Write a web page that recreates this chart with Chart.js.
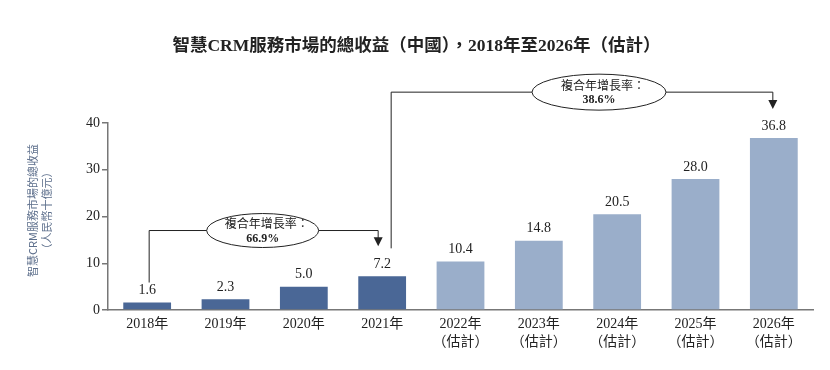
<!DOCTYPE html>
<html>
<head>
<meta charset="utf-8">
<script src="https://cdn.jsdelivr.net/npm/chart.js@4.4.1/dist/chart.umd.min.js"></script>
<style>
  html, body { margin: 0; padding: 0; background: #fff; }
  #wrap { width: 830px; height: 370px; }
</style>
</head>
<body>
<div id="wrap"><canvas id="myChart" width="830" height="370"></canvas></div>
<script>
// Daten
const years = ["2018年", "2019年", "2020年", "2021年", "2022年", "2023年", "2024年", "2025年", "2026年"];
const estimated = [false, false, false, false, true, true, true, true, true];
const revenue = [1.6, 2.3, 5.0, 7.2, 10.4, 14.8, 20.5, 28.0, 36.8];
const yTicks = [0, 10, 20, 30, 40];
const cagrLabel = "複合年增長率：";
const cagrHist = "66.9%";
const cagrFcst = "38.6%";

const serif = '"Liberation Serif", "Noto Sans CJK TC", serif';
const sans = '"Noto Sans CJK TC", "Noto Sans", sans-serif';
const darkBlue = '#4a6796';
const lightBlue = '#9aaeca';

const xLabels = years.map((y, i) => estimated[i] ? [y, "（估計）"] : y);

// Pfeil nach unten
function arrowDown(ctx, x, y) {
    ctx.beginPath();
    ctx.moveTo(x - 4.5, y - 9);
    ctx.lineTo(x + 4.5, y - 9);
    ctx.lineTo(x, y);
    ctx.closePath();
    ctx.fill();
}

function ellipseLabel(ctx, cx, cy, w, h, pct) {
    ctx.beginPath();
    ctx.ellipse(cx, cy, w / 2, h / 2, 0, 0, Math.PI * 2);
    ctx.fillStyle = '#fff';
    ctx.fill();
    ctx.strokeStyle = '#222';
    ctx.lineWidth = 1;
    ctx.stroke();
    ctx.fillStyle = '#222';
    ctx.textAlign = 'center';
    ctx.textBaseline = 'middle';
    ctx.font = '12px ' + sans;
    ctx.fillText(cagrLabel, cx + 4, cy - 7);
    ctx.font = 'bold 12px ' + serif;
    ctx.fillText(pct, cx, cy + 8);
}

const extras = {
    id: 'extras',
    afterDatasetsDraw(chart) {
        const ctx = chart.ctx;
        const x = chart.scales.x;
        const y = chart.scales.y;
        const area = chart.chartArea;
        ctx.save();

        // Werte über den Balken
        ctx.font = '14px ' + serif;
        ctx.fillStyle = '#222';
        ctx.textAlign = 'center';
        ctx.textBaseline = 'middle';
        revenue.forEach((v, i) => {
            ctx.fillText(v.toFixed(1), x.getPixelForValue(i), y.getPixelForValue(v) - 12);
        });

        // Klammer 2018-2021
        ctx.strokeStyle = '#222';
        ctx.fillStyle = '#222';
        ctx.lineWidth = 1;
        const y1 = y.getPixelForValue(17);
        const xa = x.getPixelForValue(0) + 2;
        const xb = x.getPixelForValue(3) - 4;
        ctx.beginPath();
        ctx.moveTo(xa, y.getPixelForValue(revenue[0]) - 20);
        ctx.lineTo(xa, y1);
        ctx.lineTo(xb, y1);
        ctx.lineTo(xb, y.getPixelForValue(revenue[3]) - 38);
        ctx.stroke();
        arrowDown(ctx, xb, y.getPixelForValue(revenue[3]) - 30);
        ellipseLabel(ctx, (xa + xb) / 2 - 1, y1, 112, 34, cagrHist);

        // Klammer 2021-2026
        const y2 = y.getPixelForValue(46.6);
        const xc = x.getPixelForValue(3) + 9;
        const xd = x.getPixelForValue(8) - 1;
        ctx.strokeStyle = '#222';
        ctx.fillStyle = '#222';
        ctx.beginPath();
        ctx.moveTo(xc, y.getPixelForValue(revenue[3]) - 28);
        ctx.lineTo(xc, y2);
        ctx.lineTo(xd, y2);
        ctx.lineTo(xd, y.getPixelForValue(revenue[8]) - 37);
        ctx.stroke();
        arrowDown(ctx, xd, y.getPixelForValue(revenue[8]) - 29);
        ellipseLabel(ctx, (xc + xd) / 2 + 17, y2, 134, 36, cagrFcst);

        // Y-Achsentitel
        ctx.save();
        ctx.translate(area.left - 68, (area.top + area.bottom) / 2 - 6);
        ctx.rotate(-Math.PI / 2);
        ctx.fillStyle = '#5d6f8c';
        ctx.font = '11px ' + sans;
        ctx.textAlign = 'center';
        ctx.textBaseline = 'middle';
        ctx.fillText("智慧CRM服務市場的總收益", 0, -7);
        ctx.fillText("（人民幣十億元）", 0, 7);
        ctx.restore();

        ctx.restore();
    }
};

const ctx = document.getElementById('myChart').getContext('2d');
new Chart(ctx, {
    type: 'bar',
    data: {
        labels: xLabels,
        datasets: [{
            label: "總收益",
            data: revenue,
            backgroundColor: estimated.map(e => e ? lightBlue : darkBlue),
            categoryPercentage: 1,
            barPercentage: 0.61
        }]
    },
    options: {
        responsive: false,
        animation: false,
        layout: { padding: { left: 20, right: 17, top: 0, bottom: 0 } },
        scales: {
            x: {
                grid: { display: false },
                border: { display: true, color: '#777', width: 1.5 },
                ticks: { color: '#222', font: { family: serif, size: 14, lineHeight: 1.3 }, padding: -3, maxRotation: 0, autoSkip: false },
                afterFit: s => { s.height = 60; }
            },
            y: {
                min: 0,
                max: 40,
                afterBuildTicks: s => { s.ticks = yTicks.map(v => ({ value: v })); },
                grid: { drawOnChartArea: false, drawTicks: true, tickLength: 6, color: '#777', lineWidth: 1.5 },
                border: { display: true, color: '#777', width: 1.5 },
                ticks: { color: '#222', font: { family: serif, size: 14 }, padding: 2 },
                afterFit: s => { s.width = 88; }
            }
        },
        plugins: {
            legend: { display: false },
            tooltip: { enabled: false },
            title: {
                display: true,
                text: "智慧CRM服務市場的總收益（中國），2018年至2026年（估計）",
                color: '#222',
                font: { family: serif, size: 17.5, weight: 'bold' },
                padding: { top: 36, bottom: 66 }
            }
        }
    },
    plugins: [extras]
});
</script>
</body>
</html>
